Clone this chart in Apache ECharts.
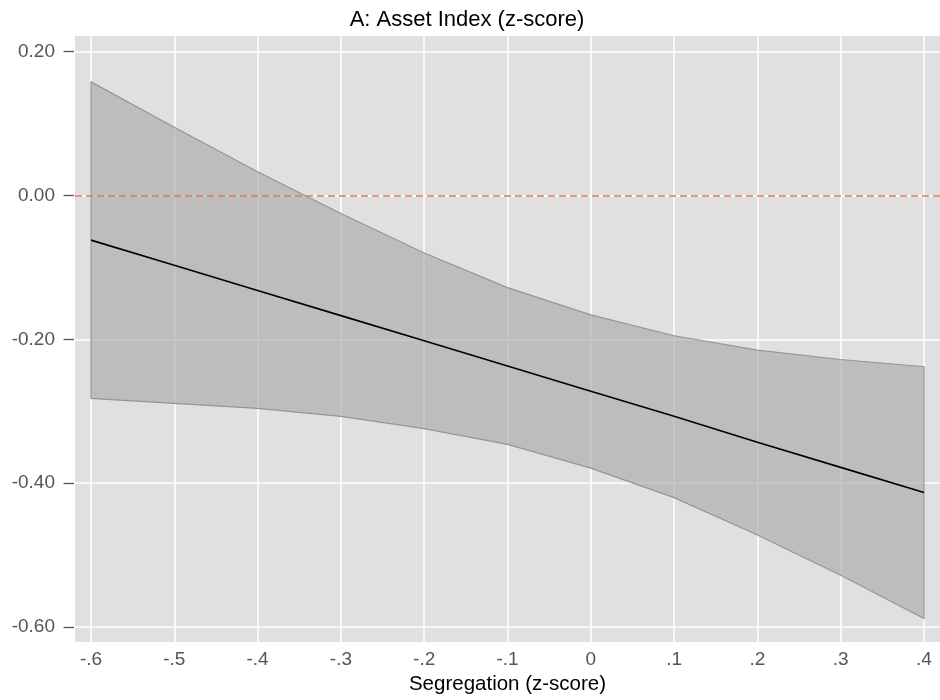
<!DOCTYPE html>
<html>
<head>
<meta charset="utf-8">
<script src="https://cdn.jsdelivr.net/npm/echarts@6/dist/echarts.min.js"></script>
<style>
html,body{margin:0;padding:0;background:#fff;}
#chart{width:940px;height:700px;}
</style>
</head>
<body>
<div id="chart"></div>
<script>
// Segregation (z-score) values
const xValues = [-0.6, -0.5, -0.4, -0.3, -0.2, -0.1, 0, 0.1, 0.2, 0.3, 0.4];
// Point estimate
const meanValues = [-0.062, -0.097, -0.132, -0.167, -0.202, -0.237, -0.272, -0.307, -0.343, -0.378, -0.413];
// Confidence band
const upperValues = [0.158, 0.095, 0.033, -0.025, -0.080, -0.128, -0.166, -0.195, -0.215, -0.228, -0.238];
const lowerValues = [-0.282, -0.289, -0.296, -0.307, -0.324, -0.346, -0.379, -0.420, -0.472, -0.528, -0.588];
// Tick values and labels
const xTicks = [-0.6, -0.5, -0.4, -0.3, -0.2, -0.1, 0, 0.1, 0.2, 0.3, 0.4];
const xTickLabels = ['-.6', '-.5', '-.4', '-.3', '-.2', '-.1', '0', '.1', '.2', '.3', '.4'];
const yTicks = [0.2, 0, -0.2, -0.4, -0.6];
const yTickLabels = ['0.20', '0.00', '-0.20', '-0.40', '-0.60'];
const titleText = 'A: Asset Index (z-score)';
const xTitle = 'Segregation (z-score)';

function lookup(ticks, labels, v) {
  for (let i = 0; i < ticks.length; i++) {
    if (Math.abs(ticks[i] - v) < 1e-9) return labels[i];
  }
  return '';
}

const FONT = 'Liberation Sans, Arial, Helvetica, sans-serif';
const chart = echarts.init(document.getElementById('chart'), null, {renderer: 'canvas'});

const bandData = xValues.map((x, i) => [x, upperValues[i], lowerValues[i]]);

chart.setOption({
  animation: false,
  backgroundColor: '#ffffff',
  graphic: [{
    type: 'text',
    x: 467, y: 20,
    style: {
      text: titleText,
      fill: '#000000',
      font: '22px ' + FONT,
      textAlign: 'center',
      textVerticalAlign: 'middle'
    }
  }],
  grid: {
    left: 75, right: 0, top: 36, bottom: 58,
    show: true, backgroundColor: '#e0e0e0', borderWidth: 0,
    containLabel: false
  },
  xAxis: {
    type: 'value',
    min: -0.6192, max: 0.4192,
    name: xTitle,
    nameLocation: 'middle',
    nameGap: 31,
    nameTextStyle: {color: '#000000', fontSize: 20.5, fontFamily: FONT},
    axisLine: {show: false, onZero: false},
    axisTick: {show: false, customValues: xTicks},
    axisLabel: {
      customValues: xTicks,
      color: '#555555', fontSize: 19, fontFamily: FONT, margin: 8,
      formatter: v => lookup(xTicks, xTickLabels, v)
    },
    splitLine: {show: true, lineStyle: {color: '#ffffff', width: 1.5}}
  },
  yAxis: {
    type: 'value',
    min: -0.6208, max: 0.2218,
    offset: 1,
    axisLine: {show: false, onZero: false},
    axisTick: {show: true, length: 10.5, customValues: yTicks, lineStyle: {color: '#555555', width: 1.3}},
    axisLabel: {
      customValues: yTicks,
      color: '#555555', fontSize: 19, fontFamily: FONT, margin: 19,
      formatter: v => lookup(yTicks, yTickLabels, v)
    },
    splitLine: {show: true, lineStyle: {color: '#ffffff', width: 1.5}}
  },
  series: [
    {
      type: 'custom',
      name: 'band',
      silent: true,
      data: bandData,
      encode: {x: 0, y: [1, 2]},
      z: 2,
      renderItem: function (params, api) {
        if (params.dataIndex !== 0) return null;
        const pts = [];
        for (let i = 0; i < xValues.length; i++) pts.push(api.coord([xValues[i], upperValues[i]]));
        for (let i = xValues.length - 1; i >= 0; i--) pts.push(api.coord([xValues[i], lowerValues[i]]));
        return {
          type: 'polygon',
          shape: {points: pts},
          style: {fill: 'rgba(172,172,172,0.68)', stroke: '#959595', lineWidth: 1.2}
        };
      }
    },
    {
      type: 'line',
      name: 'estimate',
      silent: true,
      data: xValues.map((x, i) => [x, meanValues[i]]),
      symbol: 'none',
      z: 3,
      lineStyle: {color: '#000000', width: 1.6},
      markLine: {
        silent: true,
        symbol: 'none',
        label: {show: false},
        lineStyle: {color: '#e2735f', type: [7, 4], width: 1.5},
        data: [{yAxis: 0}]
      }
    }
  ]
});
</script>
</body>
</html>
